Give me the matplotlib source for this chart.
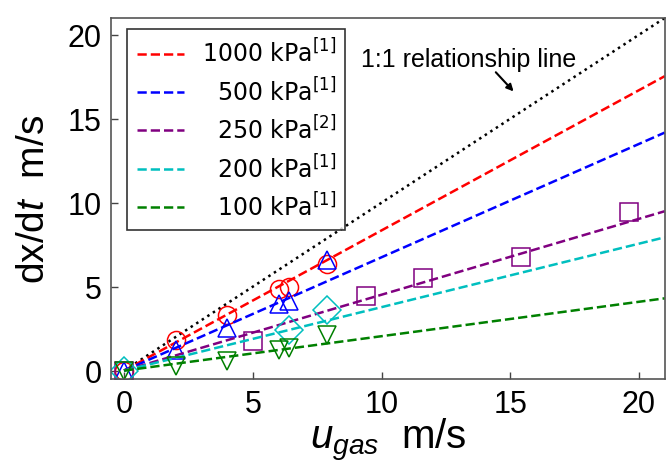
import numpy as np
import matplotlib
matplotlib.use("Agg")
import matplotlib.pyplot as plt

plt.rcParams['font.family'] = ['Liberation Sans', 'DejaVu Sans']
plt.rcParams['mathtext.fontset'] = 'custom'
plt.rcParams['mathtext.rm'] = 'Liberation Sans'
plt.rcParams['mathtext.it'] = 'Liberation Sans:italic'

# ------------------------ Data ------------------------
labels = [r'1000 kPa$^{[1]}$', r'  500 kPa$^{[1]}$', r'  250 kPa$^{[2]}$',
          r'  200 kPa$^{[1]}$', r'  100 kPa$^{[1]}$']
colors = ['red', 'blue', 'purple', 'c', 'green']
markers = ['o', '^', 's', 'D', 'v']
slopes = [0.835, 0.675, 0.452, 0.378, 0.205]

u_1000 = [0, 2, 4, 6, 6.4, 7.9]
v_1000 = [0, 1.84, 3.34, 4.87, 4.99, 6.33]
u_500 = [0, 2, 4, 6, 6.4, 7.9]
v_500 = [0, 1.24, 2.54, 3.99, 4.13, 6.59]
u_250 = [0, 5.0, 9.4, 11.6, 15.4, 19.6]
v_250 = [0, 1.74, 4.43, 5.53, 6.79, 9.46]
u_200 = [0, 6.4, 7.9]
v_200 = [0, 2.44, 3.59]
u_100 = [0, 2, 4, 6, 6.4, 7.9]
v_100 = [0, 0.3, 0.6, 1.2, 1.35, 2.1]

us = [u_1000, u_500, u_250, u_200, u_100]
vs = [v_1000, v_500, v_250, v_200, v_100]

# ------------------------ Plot ------------------------
fig = plt.figure(figsize=(6.66, 4.64), dpi=100)
ax = fig.add_axes([0.167, 0.181, 0.831, 0.778])

xline = np.array([0, 21])
ax.plot(xline, xline, ':', color='black', lw=1.8)
for lab, c, m, k, u, v in zip(labels, colors, markers, slopes, us, vs):
    ax.plot(xline, k * xline, '--', color=c, lw=1.8, label=lab)
    ax.plot(u, v, m, mfc='none', mec=c, ms=13 if m != 'D' else 14, mew=1.1, ls='none')

ax.text(13.4, 18.55, '1:1 relationship line', ha='center', va='center', fontsize=18)
ax.annotate('', xy=(15.13, 16.63), xytext=(14.44, 17.77),
            arrowprops=dict(arrowstyle='-|>', color='black', lw=1.5,
                            mutation_scale=10, shrinkA=0, shrinkB=0))

ax.set_xlim(-0.5, 21)
ax.set_ylim(-0.5, 21)
ax.set_xticks([0, 5, 10, 15, 20])
ax.set_yticks([0, 5, 10, 15, 20])
ax.tick_params(direction='in', labelsize=22, length=5, width=1, pad=7,
               colors='#444444', labelcolor='black')
for sp in ax.spines.values():
    sp.set_color('#555555')
    sp.set_linewidth(1.2)

ax.set_xlabel(r'$u_{gas}$  m/s', fontsize=29, labelpad=-2)
ax.set_ylabel(r'dx/d$t$  m/s', fontsize=28, labelpad=11)

leg = ax.legend(loc='upper left', bbox_to_anchor=(0.029, 0.970), borderaxespad=0,
                prop={'family': 'DejaVu Sans', 'size': 17}, frameon=True,
                fancybox=False, edgecolor='black', handlelength=2.0,
                labelspacing=0.42, handletextpad=0.75, borderpad=0.4)
leg.get_frame().set_linewidth(1.2)
for t in leg.get_texts():
    t.set_math_fontfamily('dejavusans')

fig.savefig('out.png', dpi=100)
